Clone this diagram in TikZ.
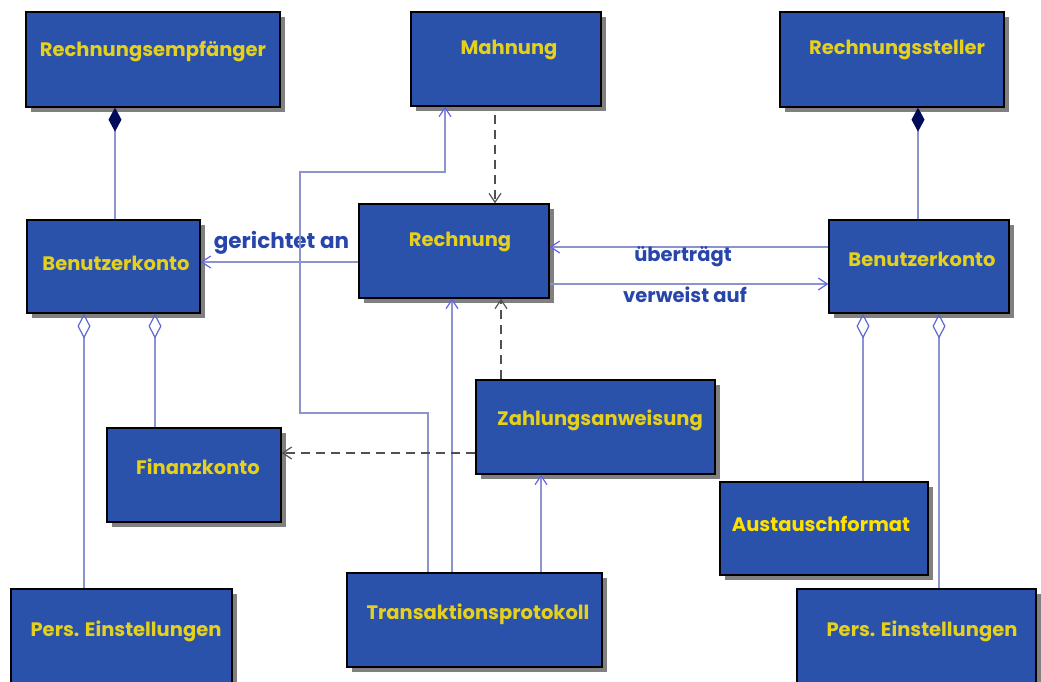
\documentclass[tikz,border=0pt]{standalone}
\usepackage{fontspec}
\setmainfont{Poppins}
\usetikzlibrary{arrows.meta,shadows,fit}
\definecolor{boxfill}{RGB}{42,82,170}
\definecolor{txtyel}{RGB}{230,208,30}
\definecolor{txtyel2}{RGB}{255,225,0}
\definecolor{lblblue}{RGB}{40,70,170}
\definecolor{lineblue}{RGB}{140,148,205}
\definecolor{arrblue}{RGB}{95,95,235}
\definecolor{dashgray}{RGB}{80,80,80}
\definecolor{navy}{RGB}{0,12,90}
\definecolor{diablue}{RGB}{90,105,210}
\tikzset{
  umlbox/.style={draw=black, line width=1.3pt, fill=boxfill, inner sep=0pt,
    general shadow={fill=black!50, shadow xshift=5pt, shadow yshift=-5pt}},
  boxtxt/.style={text=txtyel, font=\bfseries\fontsize{19.5}{22}\selectfont, inner sep=0pt},
  lbl/.style={text=lblblue, font=\bfseries\fontsize{19.5}{22}\selectfont, inner sep=0pt},
  assoc/.style={draw=lineblue, line width=1.2pt, -{Straight Barb[length=9pt,width=12pt,line width=1.2pt,color=arrblue]}},
  dep/.style={draw=dashgray, line width=1.3pt, dash pattern=on 9pt off 6pt, -{Straight Barb[length=9pt,width=12pt,line width=1.2pt]}},
  compo/.style={draw=lineblue, line width=1.2pt, {Diamond[length=24pt,width=13pt,color=navy,fill=navy]}-},
  aggr/.style={draw=lineblue, line width=1.2pt, {Diamond[open,length=25pt,width=13pt,color=diablue,line width=1.2pt]}-},
}
\begin{document}
\begin{tikzpicture}[x=1pt,y=-1pt]
\useasboundingbox (0,0) rectangle (1041,681);
% boxes
\node[umlbox, fit={(26,12) (280,107)}] (re) {};
\node[umlbox, fit={(27,220) (200,313)}] (bkl) {};
\node[umlbox, fit={(411,12) (601,106)}] (ma) {};
\node[umlbox, fit={(780,12) (1004,107)}] (rs) {};
\node[umlbox, fit={(359,204) (549,298)}] (rg) {};
\node[umlbox, fit={(829,220) (1009,313)}] (bkr) {};
\node[umlbox, fit={(107,428) (281,522)}] (fk) {};
\node[umlbox, fit={(11,589) (232,690)}] (pel) {};
\node[umlbox, fit={(347,573) (602,667)}] (tp) {};
\node[umlbox, fit={(476,380) (715,474)}] (za) {};
\node[umlbox, fit={(720,482) (928,575)}] (af) {};
\node[umlbox, fit={(797,589) (1036,690)}] (per) {};
% texts
\node[boxtxt] (re-t) at (153,52) {Rechnungsempfänger};
\node[boxtxt] (bkl-t) at (116,263) {Benutzerkonto};
\node[boxtxt] (ma-t) at (509,50) {Mahnung};
\node[boxtxt] (rs-t) at (897,50) {Rechnungssteller};
\node[boxtxt] (rg-t) at (460,242) {Rechnung};
\node[boxtxt] (bkr-t) at (922,259) {Benutzerkonto};
\node[boxtxt] (fk-t) at (198,467) {Finanzkonto};
\node[boxtxt] (pel-t) at (126,631) {Pers. Einstellungen};
\node[boxtxt] (tp-t) at (478,614) {Transaktionsprotokoll};
\node[boxtxt] (za-t) at (600,420) {Zahlungsanweisung};
\node[boxtxt, text=txtyel2] (af-t) at (821,524) {Austauschformat};
\node[boxtxt] (per-t) at (922,631) {Pers. Einstellungen};
% helper coordinates
\coordinate (c1) at (115,0);
\coordinate (c2) at (918,0);
\coordinate (c3) at (84,0);
\coordinate (c4) at (155,0);
\coordinate (c5) at (863,0);
\coordinate (c6) at (939,0);
\coordinate (c7) at (495,0);
\coordinate (c8) at (452,0);
\coordinate (c9) at (501,0);
\coordinate (c10) at (541,0);
\coordinate (c11) at (428,0);
\coordinate (c12) at (445,0);
\coordinate (y1) at (0,262);
\coordinate (y2) at (0,247);
\coordinate (y3) at (0,284);
\coordinate (y4) at (0,453);
\coordinate (k1) at (300,413);
\coordinate (k2) at (300,172);
% compositions
\draw[compo] (c1 |- re.south) -- (c1 |- bkl.north);
\draw[compo] (c2 |- rs.south) -- (c2 |- bkr.north);
% aggregations
\draw[aggr] (c3 |- bkl.south) -- (c3 |- pel.north);
\draw[aggr] (c4 |- bkl.south) -- (c4 |- fk.north);
\draw[aggr] (c5 |- bkr.south) -- (c5 |- af.north);
\draw[aggr] (c6 |- bkr.south) -- (c6 |- per.north);
% associations
\draw[assoc] (rg.west |- y1) -- node[lbl, midway, xshift=2pt, yshift=19pt, font=\bfseries\fontsize{21.5}{24}\selectfont] (l1) {gerichtet an} (bkl.east |- y1);
\draw[assoc] (bkr.west |- y2) -- node[lbl, midway, xshift=-6pt, yshift=-10pt] (l2) {überträgt} (rg.east |- y2);
\draw[assoc] (rg.east |- y3) -- node[lbl, midway, xshift=-4pt, yshift=-11pt] (l3) {verweist auf} (bkr.west |- y3);
\draw[assoc] (c8 |- tp.north) -- (c8 |- rg.south);
\draw[assoc] (c10 |- tp.north) -- (c10 |- za.south);
\draw[assoc] (c11 |- tp.north) |- (k1) -- (k2) -| (c12 |- ma.south);
% dependencies
\draw[dep] (c7 |- ma.south) ++(0,8) -- (c7 |- rg.north);
\draw[dep] (c9 |- za.north) -- (c9 |- rg.south);
\draw[dep] (za.west |- y4) -- (fk.east |- y4);
\end{tikzpicture}
\end{document}
